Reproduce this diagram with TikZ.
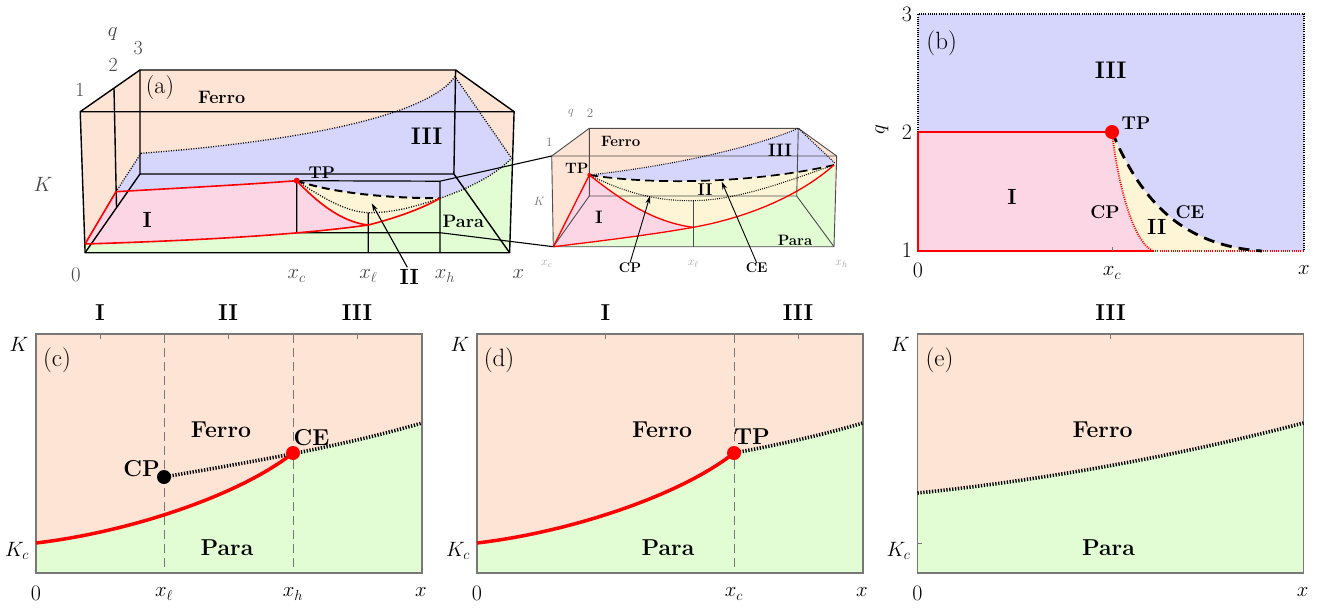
\documentclass[tikz,border=0pt]{standalone}
\usetikzlibrary{arrows.meta}
\definecolor{ferro}{RGB}{254,228,212}
\definecolor{para}{RGB}{226,253,212}
\definecolor{regI}{RGB}{253,214,230}
\definecolor{regII}{RGB}{253,245,214}
\definecolor{regIII}{RGB}{214,214,253}
\definecolor{framegray}{RGB}{120,120,120}
\definecolor{axgray}{RGB}{70,70,70}
\newcommand\fsz[1]{\fontsize{#1}{#1}\selectfont}
\tikzset{
  bx/.style={black, line width=1.4pt, line join=round},
  ibx/.style={black!70, line width=0.9pt, line join=round},
  redl/.style={red, line width=1.6pt},
  ired/.style={red, line width=1.3pt},
  dotl/.style={black, line width=1.3pt, dash pattern=on 1pt off 1.5pt},
  idot/.style={black, line width=1.1pt, dash pattern=on 0.9pt off 1.3pt},
  dashl/.style={black, line width=2pt, dash pattern=on 8pt off 5pt},
  idash/.style={black, line width=1.7pt, dash pattern=on 9pt off 5pt},
  thickdot/.style={black, line width=3.6pt, dash pattern=on 1.3pt off 1.6pt},
  redcurve/.style={red, line width=3.5pt},
  fr/.style={draw=framegray, line width=1.3pt},
  vdash/.style={framegray, line width=1pt, dash pattern=on 9pt off 5pt},
  tick/.style={framegray, line width=1pt},
  reg/.style={font=\fsz{23}\bfseries, inner sep=0pt},
  ax/.style={font=\fsz{22}, inner sep=0pt},
  pl/.style={font=\fsz{25}, inner sep=0pt},
  aax/.style={font=\fsz{20}, inner sep=0pt, text=axgray},
  iax/.style={font=\fsz{13}, inner sep=0pt, text=black!55},
  dotn/.style={circle, inner sep=0pt, minimum size=14pt},
  arr/.style={black, line width=1.1pt, -{Stealth[length=8pt,width=5pt]}},
}
\begin{document}
\begin{tikzpicture}[x=1pt,y=-1pt]
\path[use as bounding box] (0,0) rectangle (1340,610);

%================ panel (a) ================
\coordinate (aFTL) at (80.2,111.7);
\coordinate (aFTR) at (514.1,111.7);
\coordinate (aFBL) at (85.1,252.7);
\coordinate (aFBR) at (509.6,252.7);
\coordinate (aBTL) at (140,70);
\coordinate (aBTR) at (455.6,70);
\coordinate (aBBL) at (140,174);
\coordinate (aBBR) at (453.9,174);
\coordinate (aTP) at (296.7,180.7);
\coordinate (aA) at (85,244);
\coordinate (aB) at (116,191.7);
\coordinate (aL) at (368.3,225);
\coordinate (aH) at (440,198.3);
\coordinate (aR) at (511.7,158.3);
\coordinate (aD) at (141,153.3);
\coordinate (aT) at (455,76.7);
\coordinate (aLd) at (368.3,212.7);

\fill[ferro] (aBTL) -- (aBTR) -- (aFTR) -- (aFBR) -- (aFBL) -- (aFTL) -- cycle;
\fill[regIII] (aD) .. controls (290,142) and (425,118) .. (aT) -- (aR)
  .. controls (495,175) and (470,188) .. (aH)
  .. controls (380,198) and (330,192) .. (aTP)
  .. controls (240,185) and (180,188) .. (aB) -- cycle;
\fill[para] (aA) .. controls (180,241) and (290,236) .. (aL)
  .. controls (400,217) and (425,207) .. (aH)
  .. controls (470,188) and (495,175) .. (aR) -- (aFBR) -- (aFBL) -- cycle;
\fill[regI] (aA) -- (aB) .. controls (180,188) and (240,185) .. (aTP)
  .. controls (315,200) and (340,222) .. (aL)
  .. controls (290,236) and (180,241) .. (aA) -- cycle;
\fill[regII] (aTP) .. controls (330,192) and (380,198) .. (aH)
  .. controls (425,207) and (400,217) .. (aL)
  .. controls (340,222) and (315,200) .. (aTP) -- cycle;

% box
\draw[bx] (aFTL) -- (aFTR) -- (aFBR) -- (aFBL) -- cycle;
\draw[bx] (aBTL) -- (aBTR) -- (aBBR) -- (aBBL) -- cycle;
\draw[bx] (aFTL) -- (aBTL) (aFTR) -- (aBTR) (aFBL) -- (aBBL) (aFBR) -- (aBBR);
\draw[bx] (114,88.3) -- (116.5,207);
% small box
\coordinate (aS1) at (440,181.2);
\coordinate (aS2) at (440,232.7);
\coordinate (aS3) at (296.7,232.7);
\coordinate (aS4) at (440,252.7);
\coordinate (aS5) at (368.3,252.7);
\draw[bx, line width=1.2pt] (aTP) -- (aS1) (aTP) -- (aS3) -- (aS2) (aS1) -- (aS4) (aLd) -- (aS5);
% dotted lines
\draw[dotl] (aD) .. controls (290,142) and (425,118) .. (aT) -- (aR);
\draw[dotl] (aD) -- (aB);
\draw[dotl] (aH) .. controls (470,188) and (495,175) .. (aR);
\draw[dotl] (aTP) .. controls (320,196) and (345,212) .. (aLd) .. controls (395,213) and (420,205) .. (aH);
\draw[dashl] (aTP) .. controls (330,192) and (380,198) .. (aH);
% red lines
\draw[redl] (aA) -- (aB) .. controls (180,188) and (240,185) .. (aTP);
\draw[redl] (aTP) .. controls (315,200) and (340,222) .. (aL);
\draw[redl] (aA) .. controls (180,241) and (290,236) .. (aL) .. controls (400,217) and (425,207) .. (aH);
\node[circle, fill=red, inner sep=0pt, minimum size=6pt] (aTPdot) at (aTP) {};
% labels
\node[pl, font=\fsz{24}] (alab) at (160,87.5) {(a)};
\node[font=\fsz{18}\bfseries, inner sep=0pt] (aFerro) at (221.7,97) {Ferro};
\node[font=\fsz{24}\bfseries, inner sep=0pt] (aIII) at (426.7,136) {III};
\node[font=\fsz{17}\bfseries, inner sep=0pt] (aTPl) at (321.7,173) {TP};
\node[font=\fsz{22}\bfseries, inner sep=0pt] (aI) at (147.3,220) {I};
\node[font=\fsz{18}\bfseries, inner sep=0pt] (aPara) at (463.3,221.7) {Para};
\node[font=\fsz{22}\bfseries, inner sep=0pt] (aII) at (409.3,277) {II};
\draw[arr] (aII.north) ++(-2,-2) -- (371.7,203.3);
\node[aax] (a0) at (76,275) {$0$};
\node[aax] (axc) at (296.7,276) {$x_c$};
\node[aax] (axl) at (368.3,276) {$x_\ell$};
\node[aax] (axh) at (445,276) {$x_h$};
\node[aax] (ax) at (518.3,274) {$x$};
\node[aax] (aK) at (43,184) {$K$};
\node[aax] (a1) at (80,90) {1};
\node[aax] (a2) at (113.3,65) {2};
\node[aax] (a3) at (138.3,48.3) {3};
\node[aax] (aq) at (112.7,34) {$q$};

%================ inset ================
\coordinate (iFTL) at (551.7,156);
\coordinate (iFTR) at (836.7,156);
\coordinate (iFBL) at (553.3,246.7);
\coordinate (iFBR) at (834,246.7);
\coordinate (iBTL) at (589.3,128.3);
\coordinate (iBTR) at (798.3,128.3);
\coordinate (iBBL) at (589.3,196);
\coordinate (iBBR) at (796.7,196);
\coordinate (iTP) at (589.3,175);
\coordinate (iL) at (693.3,227.3);
\coordinate (iLd) at (693.3,200.7);
\coordinate (iH) at (834,165);
\coordinate (iR) at (835,163.3);

\fill[ferro] (iBTL) -- (iBTR) -- (iFTR) -- (iFBR) -- (iFBL) -- (iFTL) -- cycle;
\fill[regIII] (iTP) .. controls (680,165) and (760,145) .. (iBTR) -- (iR) -- (iH)
  .. controls (760,182) and (660,186) .. (iTP) -- cycle;
\fill[para] (iFBL) .. controls (600,241) and (650,235) .. (iL)
  .. controls (750,217) and (800,195) .. (iH) -- (iFBR) -- cycle;
\fill[regI] (iFBL) -- (iTP) .. controls (615,195) and (650,222) .. (iL)
  .. controls (650,235) and (600,241) .. (iFBL) -- cycle;
\fill[regII] (iTP) .. controls (660,186) and (760,182) .. (iH)
  .. controls (800,195) and (750,217) .. (iL)
  .. controls (650,222) and (615,195) .. (iTP) -- cycle;
\draw[ibx] (iFTL) -- (iFTR) -- (iFBR) -- (iFBL) -- cycle;
\draw[ibx] (iBTL) -- (iBTR) -- (iBBR) -- (iBBL) -- cycle;
\draw[ibx] (iFTL) -- (iBTL) (iFTR) -- (iBTR) (iFBL) -- (iBBL) (iFBR) -- (iBBR);
\draw[ibx] (iLd) -- (693.3,246.7);
\draw[idot] (iTP) .. controls (680,165) and (760,145) .. (iBTR) -- (iR);
\draw[idot] (iTP) .. controls (630,195) and (660,201) .. (iLd) .. controls (740,200) and (790,180) .. (iH);
\draw[idash] (iTP) .. controls (660,186) and (760,182) .. (iH);
\draw[ired] (iFBL) -- (iTP) .. controls (615,195) and (650,222) .. (iL);
\draw[ired] (iFBL) .. controls (600,241) and (650,235) .. (iL) .. controls (750,217) and (800,195) .. (iH);
\node[circle, fill=red, inner sep=0pt, minimum size=4pt] (iTPdot) at (iTP) {};
% connectors from (a)
\draw[bx, line width=1.1pt] (aS1) -- (iFTL);
\draw[bx, line width=1.1pt] (aS2) -- (iFBL);
% inset labels
\node[font=\fsz{15}\bfseries, inner sep=0pt] (iFerro) at (620.7,141.7) {Ferro};
\node[font=\fsz{18}\bfseries, inner sep=0pt] (iIII) at (780,150) {III};
\node[font=\fsz{17}\bfseries, inner sep=0pt] (iII) at (705,189.3) {II};
\node[font=\fsz{18}\bfseries, inner sep=0pt] (iI) at (599,217.3) {I};
\node[font=\fsz{15}\bfseries, inner sep=0pt] (iPara) at (795,240) {Para};
\node[font=\fsz{15}\bfseries, inner sep=0pt] (iTPl) at (576.7,168.3) {TP};
\node[font=\fsz{14}\bfseries, inner sep=0pt] (iCP) at (630,268) {CP};
\node[font=\fsz{14}\bfseries, inner sep=0pt] (iCE) at (756.7,268) {CE};
\draw[arr, line width=0.9pt] (iCP.north) -- (650,196);
\draw[arr, line width=0.9pt] (iCE.north) -- (721.7,181.7);
\node[iax] (iq) at (571,113) {$q$};
\node[iax] (i2) at (590,113) {2};
\node[iax] (i1) at (549.3,141.7) {1};
\node[iax] (iK) at (539.3,201.7) {$K$};
\node[iax, text=black!35] (ixc) at (546.7,264) {$x_c$};
\node[iax, text=black!35] (ixl) at (693.3,264) {$x_\ell$};
\node[iax, text=black!35] (ixh) at (841.7,264) {$x_h$};

%================ panel (b) ================
\coordinate (bTL) at (918,14);
\coordinate (bTR) at (1304,14);
\coordinate (bBL) at (918,251);
\coordinate (bBR) at (1304,251);
\coordinate (bQ) at (918,132);
\coordinate (bTP) at (1112,132);
\coordinate (bCPe) at (1153,251);
\coordinate (bCEe) at (1262,251);
\fill[regIII] (bTL) rectangle (bBR);
\fill[regI] (bQ) -- (bTP) .. controls (1116,170) and (1130,240) .. (bCPe) -- (bBL) -- cycle;
\fill[regII] (bTP) .. controls (1116,170) and (1130,240) .. (bCPe) -- (bCEe)
  .. controls (1170,245) and (1135,185) .. (bTP) -- cycle;
\draw[black, line width=1.8pt, dash pattern=on 1pt off 1.2pt] (bQ) -- (bTL) -- (bTR) -- (bBR);
\draw[red, line width=1.8pt, dash pattern=on 1pt off 1.2pt] (bCPe) -- (bBR);
\draw[red, line width=1.8pt, dash pattern=on 1pt off 1.2pt] (bTP) .. controls (1116,170) and (1130,240) .. (bCPe);
\draw[red, line width=2pt] (bQ) -- (bTP) (bQ) -- (bBL) -- (bCPe);
\draw[black, line width=2.8pt, dash pattern=on 11pt off 7pt] (bTP) .. controls (1135,185) and (1170,245) .. (bCEe);
\draw[framegray, line width=0.8pt] (1112,251) -- (1112,247);
\node[dotn, fill=red] (bTPdot) at (bTP) {};
\node[pl] (blab) at (941.7,43.3) {(b)};
\node[font=\fsz{24}\bfseries, inner sep=0pt] (bIII) at (1110.7,70) {III};
\node[font=\fsz{22}\bfseries, inner sep=0pt] (bI) at (1012,197) {I};
\node[font=\fsz{22}\bfseries, inner sep=0pt] (bII) at (1156.7,227.3) {II};
\node[font=\fsz{18.5}\bfseries, inner sep=0pt] (bCP) at (1105,212.3) {CP};
\node[font=\fsz{18.5}\bfseries, inner sep=0pt] (bCE) at (1190,212.3) {CE};
\node[font=\fsz{18.5}\bfseries, inner sep=0pt] (bTPl) at (1136,122.7) {TP};
\node[ax] (b3) at (907,14) {3};
\node[ax] (b2) at (907,132) {2};
\node[ax] (b1) at (907,250) {1};
\node[ax, rotate=90] (bq) at (882,130) {$q$};
\node[ax] (b0) at (918,270) {0};
\node[ax] (bxc) at (1112,273) {$x_c$};
\node[ax] (bx) at (1304,270) {$x$};

%================ panel (c) ================
\fill[ferro] (36,334) rectangle (422,573);
\fill[para] (36,543) .. controls (130,532) and (240,495) .. (293,453)
  .. controls (338,444.75) and (381,435) .. (422,423) -- (422,573) -- (36,573) -- cycle;
\draw[vdash] (164,334) -- (164,573);
\draw[vdash] (293,334) -- (293,573);
\draw[fr] (36,334) rectangle (422,573);
\draw[tick] (100,334) -- (100,339) (228,334) -- (228,339) (357,334) -- (357,339) (36,543) -- (40,543);
\draw[redcurve] (36,543) .. controls (130,532) and (240,495) .. (293,453);
\draw[thickdot] (164,477) .. controls (207,469.5) and (251,462) .. (294.5,453.4)
  .. controls (338,444.75) and (381,435) .. (422,423);
\node[dotn, fill=red] (cCEdot) at (293,453) {};
\node[dotn, fill=black] (cCPdot) at (164,477) {};
\node[reg] (cI) at (100,313) {I};
\node[reg] (cII) at (228,313) {II};
\node[reg] (cIII) at (357,313) {III};
\node[pl] (clab) at (57,360) {(c)};
\node[reg] (cFerro) at (221,430) {Ferro};
\node[reg] (cPara) at (227,548) {Para};
\node[reg] (cCE) at (311.5,438) {CE};
\node[reg] (cCP) at (141.5,469) {CP};
\node[ax] (cK) at (19,344) {$K$};
\node[ax] (cKc) at (17,551) {$K_c$};
\node[ax] (c0) at (36,593) {0};
\node[ax] (cxl) at (164,594) {$x_\ell$};
\node[ax] (cxh) at (293,594) {$x_h$};
\node[ax] (cx) at (421,592) {$x$};

%================ panel (d) ================
\begin{scope}[xshift=441pt]
\fill[ferro] (36,334) rectangle (422,573);
\fill[para] (36,543) .. controls (130,532) and (240,495) .. (293,453)
  .. controls (338,444.75) and (381,435) .. (422,423) -- (422,573) -- (36,573) -- cycle;
\draw[vdash] (293,334) -- (293,573);
\draw[fr] (36,334) rectangle (422,573);
\draw[tick] (164.5,334) -- (164.5,339) (357,334) -- (357,339) (36,543) -- (40,543);
\draw[redcurve] (36,543) .. controls (130,532) and (240,495) .. (293,453);
\draw[thickdot] (293,453) .. controls (338,444.75) and (381,435) .. (422,423);
\node[dotn, fill=red] (dTPdot) at (293,453) {};
\node[reg] (dI) at (164.5,313) {I};
\node[reg] (dIII) at (357,313) {III};
\node[pl] (dlab) at (58,360) {(d)};
\node[reg] (dFerro) at (221,430) {Ferro};
\node[reg] (dPara) at (227,548) {Para};
\node[reg] (dTP) at (311,437) {TP};
\node[ax] (dK) at (19,344) {$K$};
\node[ax] (dKc) at (17,551) {$K_c$};
\node[ax] (d0) at (36,593) {0};
\node[ax] (dxc) at (293,594) {$x_c$};
\node[ax] (dx) at (421,592) {$x$};
\end{scope}

%================ panel (e) ================
\begin{scope}[xshift=881.5pt]
\fill[ferro] (36,334) rectangle (422,573);
\fill[para] (36,493) .. controls (165,480) and (300,455) .. (422,423) -- (422,573) -- (36,573) -- cycle;
\draw[fr] (36,334) rectangle (422,573);
\draw[tick] (229,334) -- (229,339) (36,543) -- (40,543);
\draw[thickdot] (36,493) .. controls (165,480) and (300,455) .. (422,423);
\node[reg] (eIII) at (229,313) {III};
\node[pl] (elab) at (58,360) {(e)};
\node[reg] (eFerro) at (221,430) {Ferro};
\node[reg] (ePara) at (227,548) {Para};
\node[ax] (eK) at (19,344) {$K$};
\node[ax] (eKc) at (17,551) {$K_c$};
\node[ax] (e0) at (36,593) {0};
\node[ax] (ex) at (421,592) {$x$};
\end{scope}
\end{tikzpicture}
\end{document}
